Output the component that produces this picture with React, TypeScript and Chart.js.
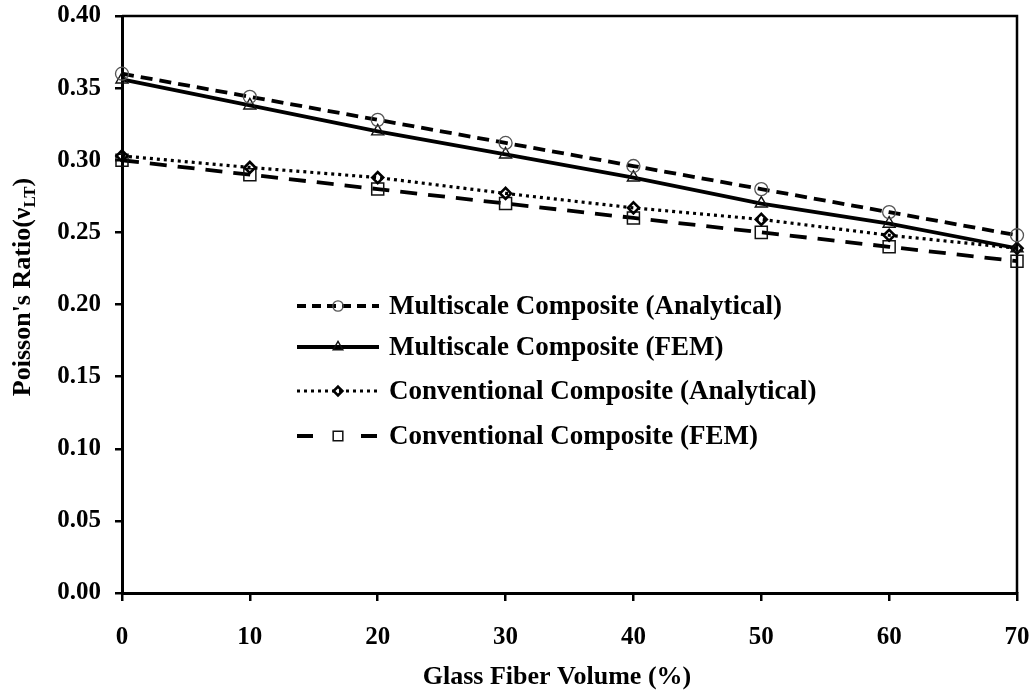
import { useEffect, useRef } from 'react';
import { Chart, registerables } from 'chart.js';

Chart.register(...registerables);

const fiberVolume = [0, 10, 20, 30, 40, 50, 60, 70];
const multiscaleAnalytical = [0.360, 0.344, 0.328, 0.312, 0.296, 0.280, 0.264, 0.248];
const multiscaleFEM = [0.356, 0.338, 0.320, 0.304, 0.288, 0.270, 0.256, 0.239];
const conventionalAnalytical = [0.303, 0.295, 0.288, 0.277, 0.267, 0.259, 0.248, 0.239];
const conventionalFEM = [0.300, 0.290, 0.280, 0.270, 0.260, 0.250, 0.240, 0.230];

const seriesLabels = [
  'Multiscale Composite (Analytical)',
  'Multiscale Composite (FEM)',
  'Conventional Composite (Analytical)',
  'Conventional Composite (FEM)',
];
const xTitle = 'Glass Fiber Volume (%)';
const yTitleMain = "Poisson's Ratio(\u03BD";
const yTitleSub = 'LT';
const yTitleEnd = ')';

const FONT = '"Liberation Serif", "Times New Roman", serif';

type Style = {
  dash: number[];
  legendDash: number[];
  width: number;
  point: string;
  radius: number;
  pointWidth: number;
  pointColor: string;
};

const styles: Style[] = [
  { dash: [12, 7], legendDash: [9, 6], width: 3.8, point: 'circle', radius: 6.5, pointWidth: 1.3, pointColor: '#555' },
  { dash: [], legendDash: [], width: 3.8, point: 'triangle', radius: 7, pointWidth: 1.4, pointColor: '#111' },
  { dash: [3, 4], legendDash: [3, 4], width: 3.2, point: 'rectRot', radius: 5.5, pointWidth: 2.6, pointColor: '#000' },
  { dash: [17, 11], legendDash: [16, 48], width: 3.8, point: 'rect', radius: 8.5, pointWidth: 1.5, pointColor: '#111' },
];

function drawMarker(ctx: CanvasRenderingContext2D, kind: string, x: number, y: number, r: number) {
  ctx.beginPath();
  if (kind === 'circle') {
    ctx.arc(x, y, r, 0, Math.PI * 2);
  } else if (kind === 'triangle') {
    ctx.moveTo(x, y - r);
    ctx.lineTo(x + r * 0.866, y + r * 0.5);
    ctx.lineTo(x - r * 0.866, y + r * 0.5);
    ctx.closePath();
  } else if (kind === 'rectRot') {
    ctx.moveTo(x, y - r);
    ctx.lineTo(x + r, y);
    ctx.lineTo(x, y + r);
    ctx.lineTo(x - r, y);
    ctx.closePath();
  } else {
    const s = r * Math.SQRT1_2;
    ctx.rect(x - s, y - s, 2 * s, 2 * s);
  }
  ctx.stroke();
}

const decorPlugin = {
  id: 'decor',
  beforeDatasetsDraw(chart: any) {
    const { ctx, chartArea } = chart;
    ctx.save();
    ctx.strokeStyle = '#000';
    ctx.lineWidth = 2.5;
    ctx.beginPath();
    ctx.moveTo(chartArea.left, chartArea.top);
    ctx.lineTo(chartArea.right, chartArea.top);
    ctx.lineTo(chartArea.right, chartArea.bottom);
    ctx.stroke();
    ctx.restore();
  },
  afterDraw(chart: any) {
    const { ctx } = chart;
    // legend
    const rowsY = [306, 347, 391, 436];
    const lineStart = 297;
    const lineEnd = 379;
    const markerX = 338;
    const textX = 389;
    ctx.save();
    seriesLabels.forEach((label, i) => {
      const st = styles[i];
      const y = rowsY[i];
      ctx.strokeStyle = '#000';
      ctx.lineWidth = st.width;
      ctx.setLineDash(st.legendDash);
      ctx.beginPath();
      ctx.moveTo(lineStart, y);
      ctx.lineTo(lineEnd, y);
      ctx.stroke();
      ctx.setLineDash([]);
      ctx.strokeStyle = st.pointColor;
      ctx.lineWidth = st.pointWidth;
      drawMarker(ctx, st.point, markerX, y, st.radius * 0.8);
      ctx.fillStyle = '#000';
      ctx.font = `bold 27px ${FONT}`;
      ctx.textAlign = 'left';
      ctx.textBaseline = 'middle';
      ctx.fillText(label, textX, y + 1);
    });
    ctx.restore();

    // x axis title
    ctx.save();
    ctx.fillStyle = '#000';
    ctx.font = `bold 26px ${FONT}`;
    ctx.textAlign = 'center';
    ctx.textBaseline = 'middle';
    ctx.fillText(xTitle, 557, 677);
    ctx.restore();

    // y axis title with subscript
    ctx.save();
    ctx.translate(22, 287);
    ctx.rotate(-Math.PI / 2);
    ctx.fillStyle = '#000';
    ctx.textBaseline = 'alphabetic';
    ctx.textAlign = 'left';
    ctx.font = `bold 26px ${FONT}`;
    const w1 = ctx.measureText(yTitleMain).width;
    const w3 = ctx.measureText(yTitleEnd).width;
    ctx.font = `bold 17px ${FONT}`;
    const w2 = ctx.measureText(yTitleSub).width;
    const total = w1 + w2 + w3;
    let x = -total / 2;
    const base = 8;
    ctx.font = `bold 26px ${FONT}`;
    ctx.fillText(yTitleMain, x, base);
    x += w1;
    ctx.font = `bold 17px ${FONT}`;
    ctx.fillText(yTitleSub, x, base + 5);
    x += w2;
    ctx.font = `bold 26px ${FONT}`;
    ctx.fillText(yTitleEnd, x, base);
    ctx.restore();
  },
};

export default function App() {
  const canvasRef = useRef<HTMLCanvasElement | null>(null);

  useEffect(() => {
    const canvas = canvasRef.current;
    if (!canvas) return;
    const seriesValues = [multiscaleAnalytical, multiscaleFEM, conventionalAnalytical, conventionalFEM];
    const zeroPad = (scale: any) => {
      scale.paddingTop = 0;
      scale.paddingBottom = 0;
      scale.paddingLeft = 0;
      scale.paddingRight = 0;
    };
    const chart = new Chart(canvas, {
      type: 'line',
      data: {
        datasets: seriesValues.map((vals, i) => ({
          label: seriesLabels[i],
          data: vals.map((v, j) => ({ x: fiberVolume[j], y: v })),
          borderColor: '#000',
          borderWidth: styles[i].width,
          borderDash: styles[i].dash,
          pointStyle: styles[i].point as any,
          pointRadius: styles[i].radius,
          pointBorderWidth: styles[i].pointWidth,
          pointBorderColor: styles[i].pointColor,
          pointBackgroundColor: 'rgba(0,0,0,0)',
          fill: false,
          tension: 0,
          clip: false as any,
        })),
      },
      options: {
        animation: false,
        responsive: true,
        maintainAspectRatio: false,
        layout: { padding: { top: 16, right: 17, left: 0, bottom: 0 } },
        plugins: {
          legend: { display: false },
          tooltip: { enabled: false },
        },
        scales: {
          x: {
            type: 'linear',
            min: 0,
            max: 70,
            afterFit: (scale: any) => { scale.height = 98; zeroPad(scale); },
            ticks: {
              stepSize: 10,
              color: '#000',
              font: { family: FONT, size: 25, weight: 'bold' },
              padding: 22,
              maxRotation: 0,
            },
            grid: { display: true, drawOnChartArea: false, drawTicks: true, tickLength: 8, color: '#000', lineWidth: 2.5 },
            border: { display: true, color: '#000', width: 3 },
          },
          y: {
            type: 'linear',
            min: 0,
            max: 0.4,
            afterFit: (scale: any) => { scale.width = 122; zeroPad(scale); },
            ticks: {
              stepSize: 0.05,
              color: '#000',
              font: { family: FONT, size: 25, weight: 'bold' },
              padding: 14,
              callback: (v: any) => Number(v).toFixed(2),
            },
            grid: { display: true, drawOnChartArea: false, drawTicks: true, tickLength: 7, color: '#000', lineWidth: 2.5 },
            border: { display: true, color: '#000', width: 3 },
          },
        },
      },
      plugins: [decorPlugin],
    });
    return () => chart.destroy();
  }, []);

  return (
    <div style={{ position: 'fixed', left: 0, top: 0, width: 1034, height: 691, background: '#fff' }}>
      <canvas ref={canvasRef} />
    </div>
  );
}
